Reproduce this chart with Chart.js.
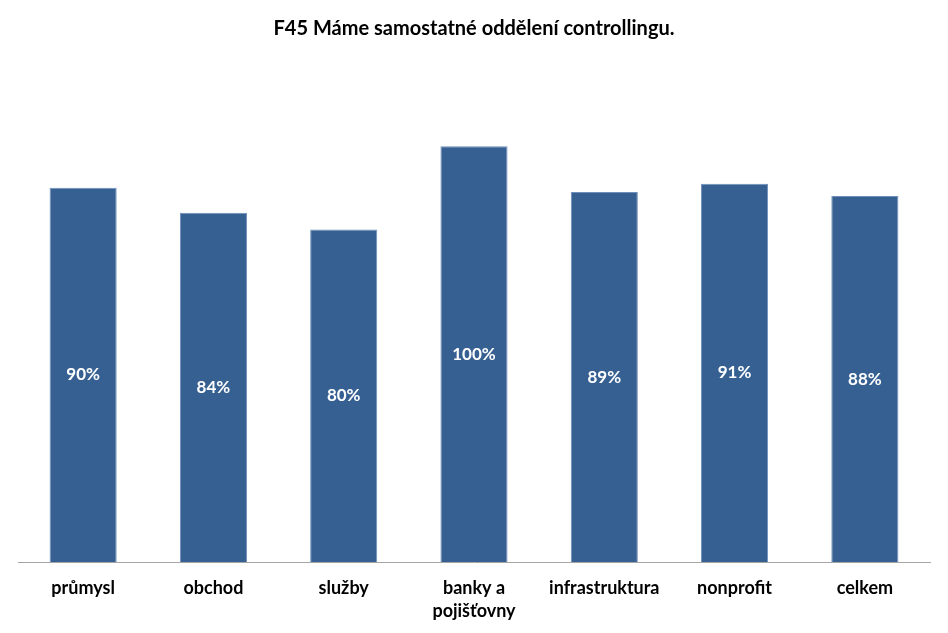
<!DOCTYPE html>
<html>
<head>
<meta charset="utf-8">
<script src="https://cdn.jsdelivr.net/npm/chart.js@4"></script>
<style>
  body { margin: 0; background: #fff; }
  #wrap { width: 948px; height: 633px; }
</style>
</head>
<body>
<div id="wrap"><canvas id="chart" width="948" height="633"></canvas></div>
<script>
const categories = ['průmysl', 'obchod', 'služby', ['banky a', 'pojišťovny'], 'infrastruktura', 'nonprofit', 'celkem'];
const shares = [0.90, 0.84, 0.80, 1.00, 0.89, 0.91, 0.88];
const title = 'F45 Máme samostatné oddělení controllingu.';

const fontFamily = 'Lato, "Open Sans", sans-serif';

// white percentage labels in the middle of each bar
const barLabels = {
    id: 'barLabels',
    afterDatasetsDraw(chart) {
        const ctx = chart.ctx;
        const meta = chart.getDatasetMeta(0);
        ctx.save();
        ctx.fillStyle = '#ffffff';
        ctx.font = 'bold 17px ' + fontFamily;
        ctx.textAlign = 'center';
        ctx.textBaseline = 'middle';
        meta.data.forEach((bar, i) => {
            const y = (bar.y + bar.base) / 2;
            ctx.fillText(Math.round(shares[i] * 100) + '%', bar.x, y);
        });
        ctx.restore();
    }
};

const ctx = document.getElementById('chart').getContext('2d');
new Chart(ctx, {
    type: 'bar',
    data: {
        labels: categories,
        datasets: [{
            data: shares,
            backgroundColor: '#366092',
            borderColor: '#6f8fba',
            borderWidth: 1,
            categoryPercentage: 1,
            barPercentage: 0.515
        }]
    },
    options: {
        responsive: false,
        animation: false,
        layout: { padding: { left: 18, right: 18, top: 0, bottom: -4 } },
        plugins: {
            legend: { display: false },
            tooltip: { enabled: false },
            title: {
                display: true,
                text: title,
                color: '#000',
                font: { family: fontFamily, size: 20, weight: 'bold' },
                padding: { top: 17, bottom: 22 }
            }
        },
        scales: {
            x: {
                grid: { display: false, drawTicks: false },
                border: { display: true, color: '#a6a6a6', width: 1 },
                ticks: {
                    color: '#000',
                    font: { family: fontFamily, size: 18, weight: 'bold', lineHeight: 1.3 },
                    padding: 14,
                    maxRotation: 0
                }
            },
            y: {
                display: false,
                min: 0,
                max: 1.2
            }
        }
    },
    plugins: [barLabels]
});
</script>
</body>
</html>
